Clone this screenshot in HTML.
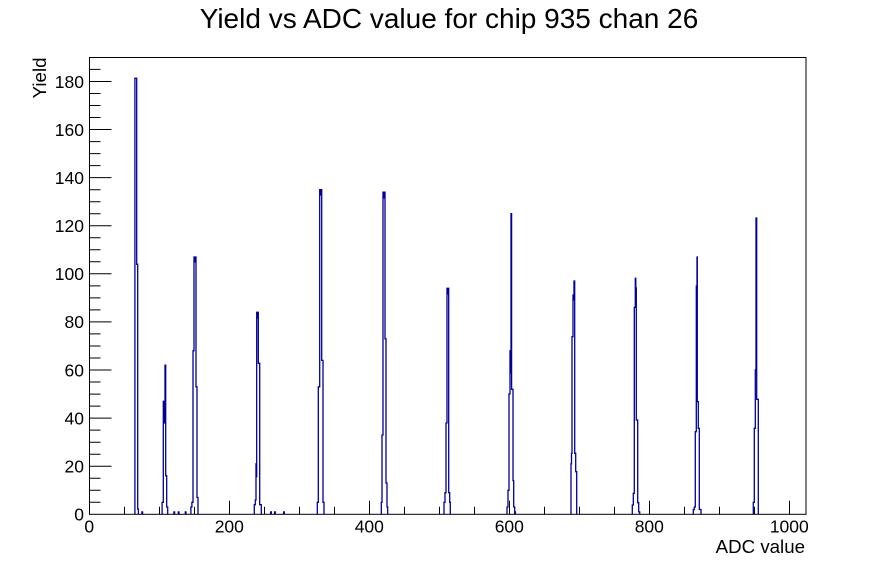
<!DOCTYPE html>
<html>
<head>
<meta charset="utf-8">
<style>
  html, body { margin: 0; padding: 0; background: #ffffff; }
  svg { display: block; }
  text { font-family: "Liberation Sans", Arial, Helvetica, sans-serif; fill: #000; }
</style>
</head>
<body>
<svg width="896" height="572" viewBox="0 0 896 572" xmlns="http://www.w3.org/2000/svg">
  <rect x="0" y="0" width="896" height="572" fill="#ffffff"/>

  <!-- Title -->
  <text x="449" y="28" font-size="28" text-anchor="middle">Yield vs ADC value for chip 935 chan 26</text>

  <!-- Histogram -->
  <path fill="none" stroke="#000099" stroke-width="1.3" stroke-linejoin="miter" d="
    M134.9,514.3 V78.3 H136.7 V264.3 H137.7 V509 H138.4 V514.3
    M141.9,514.3 V511.9 H142.6 V514.3
    M162.1,514.3 V502.3 H163.3 V401.3 H164.1 V423 H164.4 V401.3 H165 V365.2 H165.7 V475.8 H166.7 V507 H167.7 V514.3
    M173.9,514.3 V511.9 H174.6 V514.3
    M178.3,514.3 V511.9 H179 V514.3
    M185.3,514.3 V511.9 H186 V514.3
    M190.9,514.3 V507 H191.9 V502.3 H193 V350.8 H194 V257 H195 V262 H195.4 V257 H196 V386.8 H197 V497.5 H198 V514.3
    M254.3,514.3 V504.7 H255.3 V500 H256 V463.8 H256.3 V476.7 H256.7 V312.3 H257.4 V318 H257.8 V312.3 H258.3 V363.3 H259.7 V504.7 H261.3 V514.3
    M270.6,514.3 V511.9 H271.3 V514.3
    M274.6,514.3 V511.9 H275.3 V514.3
    M283.6,514.3 V511.9 H284.3 V514.3
    M317.3,514.3 V502.3 H318.3 V386.8 H319.7 V189.7 H320.6 V195 H321 V189.7 H321.7 V360.4 H323 V502.3 H324 V514.3
    M381.3,514.3 V502.3 H382 V435 H383 V192.1 H383.8 V198 H384.2 V192.1 H385 V338.8 H386 V483 H387 V507 H387.7 V514.3
    M444,514.3 V502.3 H445 V492.7 H446 V423 H447 V288.3 H447.7 V294 H448.1 V288.3 H448.7 V492.7 H449.7 V502.3 H450.3 V514.3
    M507,514.3 V507 H508 V490.3 H509 V394 H510 V350.8 H510.7 V373 H511 V213.7 H511.6 V389.3 H513 V480.6 H513.7 V507 H514.7 V514.3
    M514.7,514.3 V511.9 H515.4 V514.3
    M571,514.3 V463.8 H571.5 V453.3 H572 V336.7 H573 V295 H573.6 V300 H574 V281 H574.7 V453.3 H575.7 V471.7 H576.7 V514.3
    M632.3,514.3 V505 H633.3 V493.3 H634.3 V307.3 H635.3 V278.3 H635.8 V288 H636.3 V420 H637.7 V502.7 H638.7 V511.9 H639.7 V514.3
    M693.3,514.3 V509.5 H694.3 V507 H695.3 V431.7 H696.3 V286 H697 V257 H697.3 V401.7 H698.3 V428.3 H699.3 V509.5 H701 V514.3
    M753.3,514.3 V502.3 H754.3 V428.3 H755.3 V370 H756 V218 H756.7 V399.3 H758.3 V514.3
  "/>

  <!-- Frame -->
  <rect x="89.5" y="57.5" width="716.5" height="456.8" fill="none" stroke="#000" stroke-width="1"/>

  <!-- X axis ticks -->
  <path fill="none" stroke="#000" stroke-width="1" d="
    M89.5,514.3 v-13.5
    M124.5,514.3 v-7.5
    M159.5,514.3 v-7.5
    M194.5,514.3 v-7.5
    M229.5,514.3 v-13.5
    M264.5,514.3 v-7.5
    M299.5,514.3 v-7.5
    M334.5,514.3 v-7.5
    M369.5,514.3 v-13.5
    M404.5,514.3 v-7.5
    M439.5,514.3 v-7.5
    M474.5,514.3 v-7.5
    M509.5,514.3 v-13.5
    M544.5,514.3 v-7.5
    M579.5,514.3 v-7.5
    M614.5,514.3 v-7.5
    M649.5,514.3 v-13.5
    M684.5,514.3 v-7.5
    M719.5,514.3 v-7.5
    M754.5,514.3 v-7.5
    M789.5,514.3 v-13.5
  "/>

  <!-- Y axis ticks -->
  <path fill="none" stroke="#000" stroke-width="1" d="
    M89.5,502.3 h11
    M89.5,490.3 h11
    M89.5,478.2 h11
    M89.5,466.2 h22
    M89.5,454.2 h11
    M89.5,442.2 h11
    M89.5,430.1 h11
    M89.5,418.1 h22
    M89.5,406.1 h11
    M89.5,394.1 h11
    M89.5,382.0 h11
    M89.5,370.0 h22
    M89.5,358.0 h11
    M89.5,346.0 h11
    M89.5,333.9 h11
    M89.5,321.9 h22
    M89.5,309.9 h11
    M89.5,297.9 h11
    M89.5,285.9 h11
    M89.5,273.8 h22
    M89.5,261.8 h11
    M89.5,249.8 h11
    M89.5,237.8 h11
    M89.5,225.7 h22
    M89.5,213.7 h11
    M89.5,201.7 h11
    M89.5,189.7 h11
    M89.5,177.6 h22
    M89.5,165.6 h11
    M89.5,153.6 h11
    M89.5,141.6 h11
    M89.5,129.5 h22
    M89.5,117.5 h11
    M89.5,105.5 h11
    M89.5,93.5 h11
    M89.5,81.5 h22
    M89.5,69.4 h11
  "/>

  <!-- X tick labels -->
  <g font-size="17.5" text-anchor="middle">
    <text x="89.3" y="532.5">0</text>
    <text x="229.3" y="532.5">200</text>
    <text x="369.3" y="532.5">400</text>
    <text x="509.3" y="532.5">600</text>
    <text x="649.3" y="532.5">800</text>
    <text x="789.3" y="532.5">1000</text>
  </g>

  <!-- Y tick labels -->
  <g font-size="17.5" text-anchor="end">
    <text x="84" y="520.6">0</text>
    <text x="84" y="472.5">20</text>
    <text x="84" y="424.4">40</text>
    <text x="84" y="376.3">60</text>
    <text x="84" y="328.2">80</text>
    <text x="84" y="280.1">100</text>
    <text x="84" y="232.0">120</text>
    <text x="84" y="183.9">140</text>
    <text x="84" y="135.8">160</text>
    <text x="84" y="87.8">180</text>
  </g>

  <!-- Axis titles -->
  <text x="805" y="553" font-size="18.7" text-anchor="end">ADC value</text>
  <text transform="translate(46,57.5) rotate(-90)" x="0" y="0" font-size="18.7" text-anchor="end">Yield</text>
</svg>
</body>
</html>
